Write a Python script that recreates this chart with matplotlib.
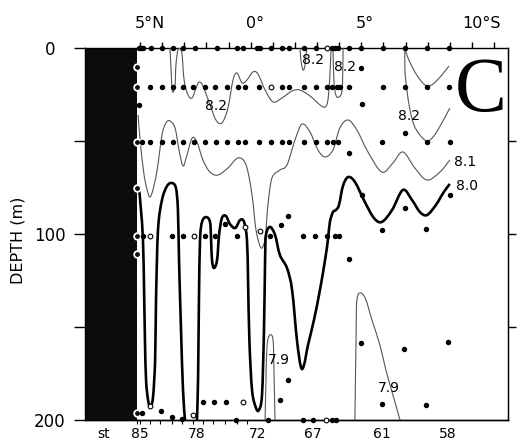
import matplotlib
matplotlib.use('Agg')
import matplotlib.pyplot as plt
from matplotlib.patches import Rectangle, PathPatch
from matplotlib.path import Path

# ---------------- data (latitude: negative = N, positive = S; depth in m) ----
LAT_MIN, LAT_MAX = -7.49, 11.63
DEPTH_MAX = 200
COAST_LAT = -5.14

lat_ticks = list(range(-5, 12))
lat_label_pos = [-5, 0, 5, 10]
lat_label_num = ['5', '0', '5', '10']
lat_label_suf = ['°N', '°', '°', '°S']

station_lats = [-5.0, -2.43, 0.33, 2.81, 5.93, 8.92]
station_names = ['85', '78', '72', '67', '61', '58']
station_tick_lats = [-5.14, -5.0, -4.55, -4.10, -3.56, -3.10, -2.61, -2.16,
                     -1.70, -1.16, -0.62, -0.17]

depth_ticks = [0, 50, 100, 150, 200]
depth_labels = ['0', '', '100', '', '200']

# sample points (filled)
dots_0_lat = [-5.05, -4.95, -4.87, -4.51, -4.01, -3.51, -3.06, -2.52, -1.52,
              -0.62, -0.35, 0.28, 0.42, 0.92, 1.41, 1.73, 2.41, 2.95, 3.67,
              3.81, 3.94, 4.44, 4.98, 5.98, 6.97, 7.97, 8.96]
dots_20_lat = [-4.55, -4.01, -3.51, -3.06, -2.61, -2.07, -1.61, -1.07, -0.57,
               -0.26, 0.38, 1.41, 1.73, 2.41, 2.95, 3.45, 3.67, 3.90, 4.03,
               4.44, 5.98, 6.97, 7.97, 8.96]
dots_50_lat = [-4.91, -4.55, -4.01, -3.51, -3.06, -2.56, -2.07, -1.57, -1.07,
               -0.57, -0.26, 0.38, 0.92, 1.41, 1.73, 2.41, 2.95, 3.45, 3.72,
               3.94, 5.93, 7.97, 9.00]
dots_100_lat = [-4.87, -3.56, -3.06, -2.07, -1.61, -0.62, 0.87, 2.36, 2.91,
                3.45, 3.81, 3.99]
dots_200_lat = [-0.66, 0.78, 2.36, 2.81, 3.67, 3.85]
dots_190_lat = [-2.16, -1.66, -1.12]
extra_lat = [4.98, 5.03, -5.05, 4.44, 6.97, -1.16, 1.37, 1.69, 4.44, 5.03,
             6.97, 9.00, 5.93, 7.92, 1.32, 1.69, 4.98, 6.93, 8.92, 5.93, 7.92,
             -4.91, -4.05, -3.56, -3.10]
extra_depth = [10.8, 30.1, 30.6, 56.5, 45.7, 94.6, 95.2, 90.3, 113.4, 79.0,
               86.0, 79.0, 97.8, 97.3, 189.2, 178.5, 158.6, 161.8, 158.1,
               191.4, 191.9, 196.2, 195.2, 198.4, 199.5]

# sample points (open)
open_lat = [3.45, 0.92, -4.55, -2.56, -0.26, 0.42, -0.35, 3.40, -2.61, -4.55]
open_depth = [0, 21.0, 101, 101, 96.2, 98.4, 190.3, 200, 197.3, 192.5]

# samples on the coast edge
edge_depth = [10.2, 21.0, 50.5, 75.3, 101, 110.8, 196.2]

# isolines (lat, depth)
iso82_a = [(-3.65, 0), (-3.60, 11.8), (-3.56, 21.5), (-3.51, 23.7), (-3.42, 19.9),
           (-3.38, 9.1), (-3.29, 1.0), (-3.19, 0.5), (-3.10, 3.8), (-3.01, 17.2),
           (-2.83, 25.3), (-2.65, 26.9), (-2.47, 21.5), (-2.34, 18.3), (-2.16, 20.4),
           (-1.84, 30.6), (-1.57, 38.7), (-1.30, 40.3), (-1.03, 32.3), (-0.80, 17.2),
           (-0.62, 13.4), (-0.39, 18.8), (-0.17, 17.2), (0.10, 12.9), (0.33, 14.0),
           (0.65, 22.6), (1.01, 29.0), (1.41, 26.9), (1.87, 23.1), (2.23, 22.6),
           (2.68, 25.8), (3.13, 30.6), (3.36, 31.7), (3.49, 28.0), (3.58, 14.5),
           (3.63, 0)]
iso82_b = [(3.72, 0), (3.76, 17.2), (3.85, 25.3), (3.99, 26.3), (4.13, 22.6),
           (4.17, 6.5), (4.17, 0)]
iso82_c = [(2.23, 0), (2.27, 6.5), (2.36, 11.8), (2.45, 9.7), (2.50, 3.8), (2.54, 0)]
iso82_d = [(6.97, 0), (7.11, 5.4), (7.42, 12.9), (7.74, 18.3), (7.97, 20.4),
           (8.24, 19.4), (8.60, 15.1), (8.96, 9.7)]
iso82_e = [(6.97, 0), (6.97, 11.8), (7.06, 22.6), (7.20, 33.3), (7.38, 41.4),
           (7.65, 46.8), (7.97, 50.0), (8.28, 47.3), (8.64, 40.3), (9.00, 32.3)]
iso81 = [(-5.09, 36.0), (-5.00, 49.5), (-4.82, 68.3), (-4.64, 78.0), (-4.55, 80.1),
         (-4.42, 76.3), (-4.23, 65.6), (-4.01, 46.8), (-3.83, 40.3), (-3.65, 39.2),
         (-3.42, 43.0), (-3.24, 54.8), (-3.06, 63.4), (-2.88, 57.5), (-2.65, 48.4),
         (-2.43, 50.5), (-2.16, 60.2), (-1.84, 66.7), (-1.48, 68.3), (-1.03, 64.5),
         (-0.57, 59.1), (-0.21, 62.9), (0.06, 79.0), (0.24, 97.8), (0.47, 107.5),
         (0.65, 102.2), (0.78, 84.4), (0.96, 69.9), (1.32, 65.6), (1.64, 62.9),
         (2.00, 49.5), (2.32, 40.9), (2.68, 45.2), (3.04, 54.8), (3.36, 58.6),
         (3.72, 54.8), (4.03, 43.0), (4.40, 38.7), (4.80, 44.1), (5.30, 55.9),
         (5.93, 66.7), (6.43, 61.8), (6.88, 55.9), (7.42, 64.5), (7.97, 71.0),
         (8.55, 66.7), (9.00, 60.2)]
iso80_a = [(-5.05, 75.3), (-4.96, 87.1), (-4.87, 103.2), (-4.82, 130.1), (-4.78, 157.0),
           (-4.73, 178.5), (-4.64, 189.2), (-4.55, 192.5), (-4.42, 188.2), (-4.32, 167.7),
           (-4.28, 135.5), (-4.19, 97.8), (-4.01, 81.7), (-3.78, 74.2), (-3.56, 72.6),
           (-3.38, 75.3), (-3.29, 87.1), (-3.24, 114.0), (-3.15, 151.6), (-3.06, 183.9),
           (-2.97, 200)]
iso80_b = [(-2.43, 200), (-2.38, 178.5), (-2.34, 135.5), (-2.29, 103.2), (-2.20, 93.5),
           (-2.02, 90.9), (-1.84, 93.5), (-1.79, 103.2), (-1.75, 114.0), (-1.66, 118.3),
           (-1.52, 114.0), (-1.43, 100.5), (-1.30, 91.4), (-1.12, 90.3), (-0.94, 94.6),
           (-0.70, 96.8), (-0.48, 92.5), (-0.30, 93.5), (-0.17, 103.2), (-0.12, 124.7),
           (-0.06, 157.0), (0.06, 183.9), (0.24, 193.5), (0.37, 194.6), (0.51, 186.6),
           (0.60, 151.6), (0.65, 114.0), (0.69, 100.5), (0.87, 96.2), (1.10, 100.5),
           (1.32, 111.3), (1.64, 118.3), (1.87, 130.1), (2.09, 157.0), (2.27, 171.5),
           (2.41, 170.4), (2.59, 159.7), (2.86, 146.2), (3.13, 130.1), (3.36, 114.0),
           (3.49, 103.2), (3.58, 93.5), (3.72, 88.2), (3.85, 87.1), (3.99, 84.4),
           (4.17, 74.2), (4.40, 69.4), (4.71, 72.0), (5.16, 82.8), (5.57, 91.4),
           (5.93, 93.5), (6.39, 87.1), (6.88, 76.3), (7.29, 81.7), (7.65, 88.2),
           (7.97, 89.8), (8.37, 84.4), (8.73, 77.4), (9.00, 73.1)]
iso79_a = [(0.65, 200), (0.69, 178.5), (0.74, 159.7), (0.87, 154.3), (1.01, 157.0),
           (1.05, 173.1), (1.10, 200)]
iso79_b = [(4.71, 200), (4.76, 157.0), (4.80, 135.5), (4.98, 131.7), (5.21, 135.5),
           (5.48, 146.2), (5.84, 159.7), (6.11, 173.1), (6.43, 186.6), (6.75, 200)]

label_text = ['8.2', '8.2', '8.2', '8.2', '8.1', '8.0', '7.9', '7.9']
label_lat = [-1.57, 2.82, 4.26, 7.16, 9.69, 9.77, 1.28, 6.25]
label_depth = [31.2, 6.5, 10.2, 36.6, 61.3, 74.2, 167.7, 182.8]


def smooth_path(pts):
    """Cubic Bezier path passing through every read point (drawn by matplotlib)."""
    verts = [pts[0]]
    codes = [Path.MOVETO]
    n = len(pts)
    for i in range(n - 1):
        p0 = pts[i - 1] if i > 0 else pts[i]
        p1 = pts[i]
        p2 = pts[i + 1]
        p3 = pts[i + 2] if i + 2 < n else pts[i + 1]
        c1 = (p1[0] + (p2[0] - p0[0]) / 6, p1[1] + (p2[1] - p0[1]) / 6)
        c2 = (p2[0] - (p3[0] - p1[0]) / 6, p2[1] - (p3[1] - p1[1]) / 6)
        verts += [c1, c2, p2]
        codes += [Path.CURVE4] * 3
    return Path(verts, codes)


# ---------------- figure ------------------------------------------------------
W, H = 518, 446
fig = plt.figure(figsize=(W / 100, H / 100), dpi=100)
ax = fig.add_axes([85 / W, 26 / H, 423 / W, 372 / H])
ax.set_xlim(LAT_MIN, LAT_MAX)
ax.set_ylim(DEPTH_MAX, 0)

ax.add_patch(Rectangle((LAT_MIN, 0), COAST_LAT - LAT_MIN, DEPTH_MAX,
                       color='#0c0c0c', zorder=1, lw=0))

for s in ['top', 'bottom', 'right', 'left']:
    ax.spines[s].set_linewidth(1.0)

# ticks
ax.set_yticks(depth_ticks)
ax.set_yticklabels(depth_labels)
ax.tick_params(axis='y', direction='out', length=7.9, width=1.0, pad=17.3,
               labelsize=12)
for lbl in ax.get_yticklabels():
    lbl.set_ha('center')

ax.xaxis.set_ticks_position('top')
ax.set_xticks(lat_ticks)
ax.set_xticklabels([])
ax.tick_params(axis='x', direction='out', length=4.3, width=1.0)

secx = ax.secondary_xaxis('bottom')
secx.set_xticks(station_tick_lats, labels=[''] * len(station_tick_lats))
secx.tick_params(direction='out', length=3, width=0.8)
secx.spines['bottom'].set_linewidth(1.0)

secy = ax.secondary_yaxis('right')
secy.set_yticks([50, 100, 150], labels=['', '', ''])
secy.tick_params(direction='out', length=5.8, width=1.0)

# latitude labels on top (number centred on tick)
fs_top = 11.5
for pos, num, suf in zip(lat_label_pos, lat_label_num, lat_label_suf):
    dx = -0.5 * len(num) * 0.636 * fs_top
    ax.annotate(num + suf, xy=(pos, 1), xycoords=('data', 'axes fraction'),
                xytext=(dx, 14.4), textcoords='offset points',
                ha='left', va='baseline', fontsize=fs_top)

# station labels at bottom
for pos, name in zip(station_lats, station_names):
    ax.annotate(name, xy=(pos, 0), xycoords=('data', 'axes fraction'),
                xytext=(0, -13), textcoords='offset points',
                ha='center', va='baseline', fontsize=10)
ax.annotate('st', xy=(-6.67, 0), xycoords=('data', 'axes fraction'),
            xytext=(0, -13), textcoords='offset points',
            ha='center', va='baseline', fontsize=10)

ax.text(-0.158, 0.484, 'DEPTH (m)', transform=ax.transAxes, rotation=90,
        ha='center', va='center', fontsize=11.5)

# isolines
for line in [iso82_a, iso82_b, iso82_c, iso82_d, iso82_e, iso81, iso79_a, iso79_b]:
    ax.add_patch(PathPatch(smooth_path(line), fill=False, edgecolor='#555555',
                           lw=0.8, zorder=3, joinstyle='round'))
for line in [iso80_a, iso80_b]:
    ax.add_patch(PathPatch(smooth_path(line), fill=False, edgecolor='black',
                           lw=1.9, zorder=3, joinstyle='round'))

# sample dots
dot = dict(ls='none', marker='o', ms=2.9, color='black', zorder=5, clip_on=False)
ax.plot(dots_0_lat, [0] * len(dots_0_lat), **dot)
ax.plot(dots_20_lat, [21.0] * len(dots_20_lat), **dot)
ax.plot(dots_50_lat, [50.5] * len(dots_50_lat), **dot)
ax.plot(dots_100_lat, [101] * len(dots_100_lat), **dot)
ax.plot(dots_190_lat, [190.3] * len(dots_190_lat), **dot)
ax.plot(dots_200_lat, [200] * len(dots_200_lat), **dot)
ax.plot(extra_lat, extra_depth, **dot)
ax.plot(open_lat, open_depth, ls='none', marker='o', ms=3.4, mfc='white',
        mec='black', mew=0.8, zorder=5, clip_on=False)
ax.plot([COAST_LAT] * len(edge_depth), edge_depth, ls='none', marker='o', ms=4.8,
        mfc='#0c0c0c', mec='white', mew=1.3, zorder=4, clip_on=False)

for t, x, y in zip(label_text, label_lat, label_depth):
    ax.text(x, y, t, fontsize=10, ha='center', va='center', zorder=6)

ax.text(10.41, 33.9, 'C', fontsize=56, family='Liberation Serif',
        ha='center', va='baseline', zorder=6)

fig.savefig('out.png', dpi=100)
